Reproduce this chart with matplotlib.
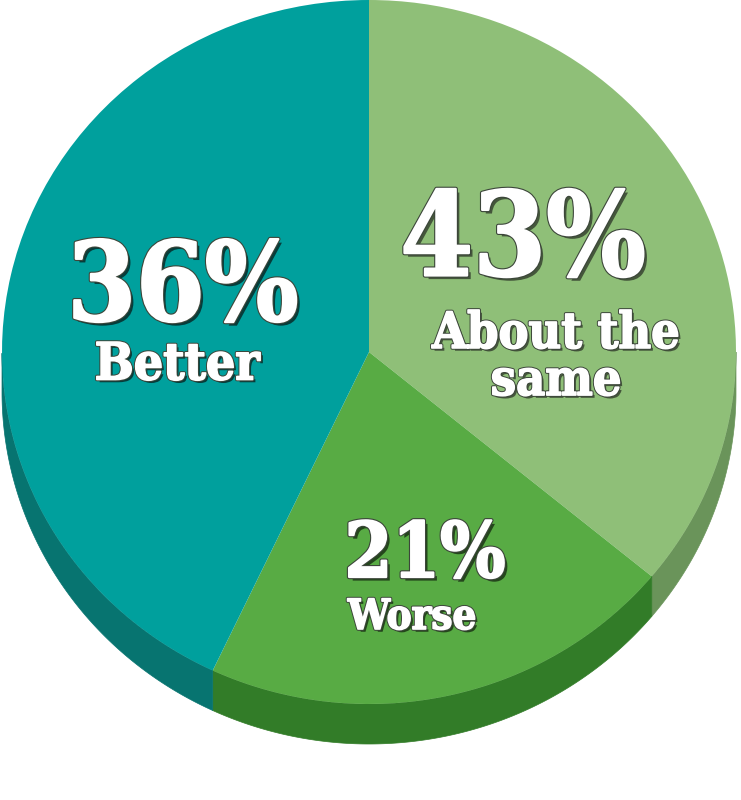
import numpy as np
import matplotlib
matplotlib.use("Agg")
import matplotlib.pyplot as plt
import matplotlib.patheffects as pe
from matplotlib.patches import Polygon

# --- data ---
# wedge sizes as drawn in the graphic, clockwise from 12 o'clock
shares = [36, 21, 43]
# percentages printed on the graphic (as in the original artwork)
printed_pct = [43, 21, 36]
names = ["About the\nsame", "Worse", "Better"]

top_colors = ["#8fbf78", "#58ab44", "#00a09d"]
side_colors = ["#6a945a", "#327c28", "#077470"]
shadow_colors = ["#44563b", "#24461c", "#063d3b"]

# --- geometry (pixels) ---
W, H = 741, 800
k = 352 / 367.0          # vertical squash of the top face
cx, cy = 369, (H - 352) / k
r = 367
depth = 40 / k

fig = plt.figure(figsize=(W / 100, H / 100), dpi=100)
ax = fig.add_axes([0, 0, 1, 1])

wedges, _ = ax.pie(shares, colors=top_colors, startangle=90, counterclock=False,
                   radius=r, center=(cx, cy), frame=True,
                   wedgeprops=dict(linewidth=0, antialiased=True))
ax.set_aspect("auto")
ax.set_xlim(0, W)
ax.set_ylim(0, H / k)
ax.axis("off")

# --- side walls (only the front half shows) ---
for w, c in zip(wedges, side_colors):
    t = np.radians(np.linspace(w.theta1, w.theta2, 600))
    t = t[np.sin(t) <= 1e-9]
    if len(t) < 2:
        continue
    xs = cx + r * np.cos(t)
    ys = cy + r * np.sin(t)
    pts = np.vstack([np.column_stack([xs, ys]),
                     np.column_stack([xs[::-1], ys[::-1] - depth])])
    ax.add_patch(Polygon(pts, closed=True, facecolor=c, edgecolor=c,
                         linewidth=0.5, zorder=0))
for w in wedges:
    w.set_zorder(2)

# --- labels ---
font = dict(family="DejaVu Serif", weight="bold", stretch="condensed", color="white")


def fx(px):
    return px / W


def fy(py):
    return 1 - py / H


def effects(shadow, big):
    off = 2.6 if big else 2.0
    return [pe.SimplePatchShadow(offset=(off, -off), shadow_rgbFace=shadow, alpha=1.0),
            pe.Stroke(linewidth=3.2 if big else 2.6, foreground="#3c463a"),
            pe.Stroke(linewidth=1.6 if big else 1.2, foreground="white"),
            pe.Normal()]


# big percentages and small names, pixel centres
pct_pos = [(523, 243), (425, 556), (183, 290)]
pct_size = [84, 55, 79]
name_pos = [(556, 358), (412, 617), (177, 366)]
name_size = [36, 30, 37]

for i in range(3):
    fig.text(fx(pct_pos[i][0]), fy(pct_pos[i][1]), f"{printed_pct[i]}%",
             ha="center", va="center", fontsize=pct_size[i],
             path_effects=effects(shadow_colors[i], True), zorder=5, **font)
    fig.text(fx(name_pos[i][0]), fy(name_pos[i][1]), names[i],
             ha="center", va="center", fontsize=name_size[i], linespacing=0.95,
             multialignment="center",
             path_effects=effects(shadow_colors[i], False), zorder=5, **font)

fig.savefig("out.png", dpi=100, facecolor="white")
